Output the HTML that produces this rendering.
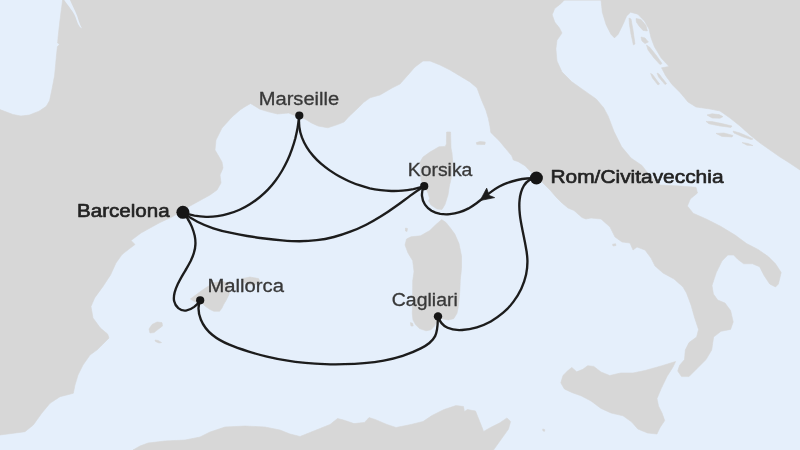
<!DOCTYPE html>
<html lang="de">
<head>
<meta charset="utf-8">
<title>Route: Barcelona – Marseille – Korsika – Rom/Civitavecchia – Cagliari – Mallorca</title>
<style>
  html, body { margin: 0; padding: 0; background: #e5effb; }
  body { width: 800px; height: 450px; overflow: hidden; position: relative; }
  svg { display: block; position: absolute; left: 0; top: 0; }
  .land { fill: #d7d7d7; stroke: #d7d7d7; stroke-width: 0.6; stroke-linejoin: round; }
  .route { fill: none; stroke: #1c1c1c; stroke-width: 2.35; stroke-linecap: round; stroke-linejoin: round; }
  .dot { fill: #151515; }
  text { font-family: "Liberation Sans", "DejaVu Sans", sans-serif; }
  .lbl { font-size: 18px; fill: #383838; stroke: #383838; stroke-width: 0.3; }
  .lblb { font-size: 18px; fill: #222222; stroke: #222222; stroke-width: 0.6; stroke-linejoin: round; }
</style>
</head>
<body>
<svg width="800" height="450" viewBox="0 0 800 450">
  <defs>
    <filter id="soft" x="-2%" y="-2%" width="104%" height="104%"><feGaussianBlur stdDeviation="0.55"/></filter>
    <filter id="soft2" x="-5%" y="-5%" width="110%" height="110%"><feGaussianBlur stdDeviation="0.4"/></filter>
  </defs>
  <rect x="0" y="0" width="800" height="450" fill="#e5effb"/>
  <g id="land" filter="url(#soft)">
    <!-- mainland Europe -->
    <path class="land" d="M62.6,0 L61,12 59.5,24 58.2,36 57.6,43 59.5,44.5 57.4,46.5 56.5,55 55.5,66 54.5,76 52,89 49.6,100.6 46.3,106.3 39,111.2 29.3,115 21,116 13,114.5 6.5,112 0,109.6
      L0,435 13.3,433.3 25,431.7 33.3,425 41.7,413.3 50,403.3 60,396.7 73.3,393.3 75,385 78,375 83,365 90,355 97.5,349.6 103,344 109,338 107.6,334 100.4,328 93,318 91,306.6 94.6,298 103,286.4 110.5,275 116,263 122,254.6 129,249 135,244.5 131,240.5 141,233 150,228 160,222.5 172,217 183,210 190,206 200,200.5 210,195 217,190 221,183 220,175 223,168 222,162 218,155 215,150 216,140 222,128 232,117 240,110 245,106.7 250.6,103.5 254.6,106 259.5,109 267.6,111.6 277.4,114 288.8,113 293.6,115 299,117 305,119 311.5,123 318,126 327.8,127.8 337.5,124.6 344,122 349,116.5 357,109 363.5,102.6 370,97.8 380,95 392,88 400,84 408,75 415,67 423,61 430,61 440,65 450,70 460,76 470,82 477,88 481.5,100 485.8,110 488.3,118.3 490,126.7 490.8,132.5 495,136.7 499.2,140.8 503.3,145.8 507.5,150.8 511.7,155.8 513.3,160 518.3,161.7 525,165.8 530,171 537,176.5 543,183 550,190 556,197 562,203 568,208 574,210.5 578,214 582,217.5 586,219 591,218 601,219 610,227 615,237 622,242 630,243 633,250 637,247 645,250 651,258 655,266 663,273 674,279 683,287 686.5,293 691,305 694.7,318 698.5,329.4 696.6,337 689,342.6 685.3,350 684.5,359.6 679.6,365.3 677.7,371 681.5,376.6 689,376.6 696.6,369 706,359.6 711.7,350 713.6,337 721,331.3 730.6,329.4 733.2,321.9 730.6,310.6 725,303 717.7,300 713.4,294 712,285.5 716.3,272.5 722,261 727.8,255 733.6,255 738,259.5 743.7,263.8 752.4,263.8 759.6,266.7 764,275.4 769.7,284 775.5,287 778.4,284 781.2,272.5 775.5,263.8 768.3,256.6 758,249.4 746.6,243.6 735,235 720.6,226.3 706.2,219 693.2,213.3 687.4,206 690.3,198.9 697.5,193 696,187.3 680,186 660,185 650,176 642,165.5 631,158 621.5,146.6 614,131.5 608.3,116.4 603.5,107.5 596.2,99 584,90.4 571.8,81.8 562,72 557,61 555.9,48.9 557,40.3 562,33 559.5,28 554.7,22 552.2,14.7 554.7,8.6 560.8,3.7 564.4,0
      L601,0 602.3,12.2 606,24.4 610.9,34.2 614.5,37.9 618.2,34.2 623,24.4 626.7,15.9 630.6,12.2 637.8,14.2 644.4,21 649,29 651,37.8 654.4,46.7 661,57.8 669,66.5 661.5,67.8 665.5,75.5 672,84.4 680,92.4 688,102 696,107 710,109 720,111 730,118 740,126 750,135 760,143 770,150 780,157 788,162 794,166 800,170 L800,0 Z"/>
    <!-- Gironde estuary -->
    <path d="M64.2,0 L70,0 C72,5 75,10 77.2,16 C78.5,20 79.5,24 82,28.5 C79,27 77.5,23 75.5,17 C73,11 69,7 64.2,0 Z" fill="#e5effb"/>
    <!-- Corsica -->
    <path class="land" d="M446.6,132 L450.6,132 451,148 452,153 452.7,161 451.4,177.4 449.4,186 448,195 445,204.5 442,209.5 437,209 431,205 428.5,200.8 429.6,198.6 428,193 425,187 421,180.6 420.6,170 420,162 423,157 430,152 439,146.8 445.2,146.4 446.4,144 Z"/>
    <!-- Sardinia -->
    <path class="land" d="M441.7,219.6 L435.7,224.7 429.8,230.5 420.5,235.8 411,236.8 406.5,239 405,245 408,253 412.7,260.7 414,271.6 412.7,281 412.6,295 412.4,309 412.2,313.5 413,320 415.5,324.6 419.5,328.6 426,330.8 431,329.8 434.5,326 437,321 441.7,318.7 448.3,320 453.7,318.7 457,313.3 458.3,306.7 459.7,293.3 460.3,280 461.5,268.5 461.5,256 459,243.6 454.8,234 450,227.5 446,222.5 Z"/>
    <path class="land" d="M405.5,228 L407.5,228.5 407,231.5 405.5,231 Z"/>
    <path class="land" d="M410.4,322.6 L412.6,323.2 413.2,326 411,326 Z"/>
    <!-- Elba -->
    <path class="land" d="M476.3,142.6 L480,141.6 485.2,142 485,144.4 480,144.6 476.8,144.6 Z"/>
    <!-- Sicily -->
    <path class="land" d="M675.6,361.5 L673,367 667,376.6 661,389 657,398.6 658.5,406 662,413 664.7,420.6 659.8,428 657,434 647.5,433 637.8,429 631.7,422 623,415.8 611,413 601,408.4 591,401 581.5,396 571.8,392.5 564.4,389 560.8,382.8 563,375.4 568,370.5 571.8,367.4 576.7,371.8 582.8,369.3 587.7,365.7 593.8,366.4 601,372 609.7,375.5 620.7,373 633,373 645,370.5 662,365.7 Z"/>
    <path class="land" d="M542.6,429 L544.6,429.4 544.8,431.2 543,431 Z"/>
    <path class="land" d="M612.6,244.2 L615.6,243.8 616,245.6 613,246 Z"/>
    <!-- Mallorca -->
    <path class="land" d="M190.3,299 L202.5,290 207.4,286.8 214,283 222,281 229,284 230,289 229,294.5 226,300.5 223.6,304.6 222,308 219.6,311.3 214,311.3 210,309.5 205,306 202.5,303.4 194.4,301.5 Z"/>
    <!-- Menorca -->
    <path class="land" d="M243,278.4 L250,277 258.6,278.6 260,282 255,285 247,284.4 243.5,282 Z"/>
    <!-- Ibiza / Formentera -->
    <path class="land" d="M149,329 L152,324.5 157,322 162,322.6 162.5,326 158.5,329 154,332.6 150,333 Z"/>
    <path class="land" d="M155,340 L158,340.4 161.6,342.6 159,343 155.6,341.6 Z"/>
    <!-- Africa -->
    <path class="land" d="M133,450 L140,446 148,443 165,441 185,440 200,437 210,432 225,427 245,426 265,427 280,430 290,434 300,436.5 315,430.5 330,424.5 337.5,418.5 343.5,420 354,423.6 364.5,422.4 369,417.6 375,419.4 387,424.5 396,427.5 411,424.5 423,421.5 432,415.5 444,409.5 456,405.6 463.5,406.5 464.4,411.6 467.4,409.5 475.5,411 478.5,418.5 481.5,426 483.6,431.4 490.5,427.5 499.5,423 507,417.9 510.6,421.5 508.5,429 501,439.5 493.5,450 Z"/>
    <!-- Adriatic islands -->
    <path class="land" d="M629,18 L631,19 633,30 635,44 633.4,45 631,34 629.4,24 Z"/>
    <path class="land" d="M636,18.5 L641,19.5 646,25.5 647.4,31 643,30.4 639,26 636.4,22 Z"/>
    <path class="land" d="M641,37 L645,38 648.4,42 645,43.6 642,41 Z"/>
    <path class="land" d="M646.5,45 L650,47.5 656,55 662,63.5 660,64.6 654,58 648,50 Z"/>
    <path class="land" d="M650.6,73.4 L652.6,74.6 659.6,84 658,85 652.4,78 Z"/>
    <path class="land" d="M657,73 L659,74 666.6,83.6 665,84.6 658.6,77 Z"/>
    <path class="land" d="M707,115 L712,113.8 719,114.6 723,116.6 720,118.2 712,118 Z"/>
    <path class="land" d="M706,121.4 L712,121.6 722,123.6 732,126 731,127.4 720,126 709,123.8 Z"/>
    <path class="land" d="M716,133.4 L724,133 733,135.4 732,137 722,136.4 Z"/>
    <path class="land" d="M733,131 L740,133 748,136.4 753,139 751,139.6 742,136.6 734,133 Z"/>
    <path class="land" d="M742,142.6 L748,143.4 753,145.6 747,145.2 Z"/>
  </g>
  <g id="routes" filter="url(#soft2)">
    <!-- Barcelona -> Marseille -->
    <path class="route" d="M182.8,212.3 C186.6,213.8 190.5,214.8 194.4,215.6 C198.3,216.3 202.1,216.7 206.0,216.8 C209.9,216.9 213.7,216.7 217.5,216.1 C221.3,215.6 225.1,214.8 228.7,213.7 C232.4,212.6 236.0,211.3 239.6,209.7 C243.1,208.1 246.5,206.3 249.8,204.2 C253.1,202.2 256.3,199.9 259.3,197.5 C262.3,195.0 265.2,192.4 267.9,189.6 C270.6,186.8 273.1,183.8 275.4,180.7 C277.8,177.6 279.9,174.3 281.9,171.0 C283.9,167.6 285.7,164.2 287.4,160.6 C289.0,157.1 290.5,153.4 291.8,149.7 C293.1,146.0 294.3,142.3 295.3,138.5 C296.2,134.7 297.1,130.9 297.7,127.1 C298.4,123.2 298.9,119.4 299.3,115.6"/>
    <!-- Marseille -> Korsika -->
    <path class="route" d="M299.3,115.6 C298.8,119.5 298.8,123.2 299.3,126.9 C299.7,130.5 300.7,134.0 301.9,137.4 C303.2,140.8 304.8,144.1 306.7,147.1 C308.6,150.2 310.8,153.2 313.2,155.9 C315.6,158.7 318.2,161.2 321.0,163.7 C323.8,166.1 326.7,168.3 329.7,170.4 C332.8,172.5 335.9,174.5 339.1,176.3 C342.4,178.1 345.7,179.7 349.0,181.2 C352.4,182.7 355.8,184.1 359.3,185.2 C362.7,186.4 366.3,187.4 369.8,188.3 C373.4,189.1 377.0,189.7 380.6,190.2 C384.2,190.7 387.8,191.0 391.5,191.0 C395.1,191.1 398.8,191.0 402.4,190.7 C406.1,190.4 409.7,189.8 413.4,189.1 C417.0,188.3 420.6,187.4 424.2,186.2"/>
    <!-- Barcelona -> Korsika -->
    <path class="route" d="M182.8,212.3 C187.4,216.0 192.3,219.1 197.4,221.7 C202.5,224.3 207.8,226.5 213.3,228.3 C218.8,230.1 224.4,231.5 230.1,232.7 C235.8,234.0 241.6,235.1 247.3,236.0 C253.1,237.0 258.8,237.8 264.6,238.5 C270.4,239.3 276.2,239.9 282.0,240.3 C287.8,240.8 293.7,241.2 299.5,241.2 C305.3,241.2 311.1,240.9 316.8,240.2 C322.5,239.5 328.2,238.4 333.8,237.0 C339.4,235.6 344.9,233.8 350.3,231.7 C355.7,229.7 361.0,227.3 366.2,224.7 C371.4,222.1 376.5,219.2 381.4,216.1 C386.4,213.0 391.2,209.7 395.9,206.3 C400.7,202.9 405.3,199.3 410.0,195.9 C414.6,192.5 419.3,189.2 424.2,186.2"/>
    <!-- Barcelona -> Mallorca -->
    <path class="route" d="M182.8,212.3 C184.6,214.2 186.3,216.5 187.8,219.0 C189.4,221.5 190.8,224.2 192.0,227.1 C193.1,229.9 194.1,232.9 194.7,235.8 C195.3,238.8 195.6,241.7 195.4,244.6 C195.3,247.4 194.8,250.1 193.9,252.8 C193.1,255.5 192.0,258.1 190.8,260.7 C189.5,263.2 188.1,265.8 186.6,268.4 C185.1,270.9 183.5,273.5 182.0,276.1 C180.5,278.7 179.1,281.4 177.8,284.1 C176.5,286.9 175.4,289.7 174.6,292.6 C173.9,295.5 173.6,298.4 174.1,301.1 C174.7,303.8 176.2,306.4 178.3,308.2 C180.5,310.0 183.2,311.0 186.0,310.6 C188.8,310.3 191.7,308.8 194.2,306.9 C196.7,304.9 198.9,302.5 200.2,300.3"/>
    <!-- Mallorca -> Cagliari -->
    <path class="route" d="M200.2,300.3 C197.5,306.2 198.4,313.4 200.9,319.7 C203.5,326.0 207.6,331.0 212.5,335.0 C217.4,339.0 223.2,342.1 229.3,344.7 C235.4,347.3 241.7,349.4 248.0,351.4 C254.3,353.4 260.6,355.1 267.0,356.6 C273.3,358.1 279.7,359.4 286.1,360.4 C292.5,361.5 299.0,362.3 305.4,362.9 C311.9,363.5 318.4,363.9 324.9,364.1 C331.4,364.4 338.0,364.4 344.5,364.2 C351.1,364.1 357.7,363.8 364.2,363.2 C370.8,362.6 377.3,361.8 383.7,360.6 C390.2,359.4 396.5,357.8 402.7,355.8 C408.9,353.8 415.0,351.4 420.8,348.4 C426.7,345.4 432.2,341.8 435.1,336.1 C438.0,330.4 437.7,321.8 438.0,316.4"/>
    <!-- Rom -> Cagliari -->
    <path class="route" d="M536.3,178.0 C530.3,178.3 526.5,181.5 523.9,185.7 C521.4,189.9 520.1,195.0 519.6,199.9 C519.1,204.9 519.3,210.0 519.9,215.1 C520.5,220.2 521.5,225.2 522.5,230.2 C523.5,235.1 524.5,239.9 525.4,244.7 C526.4,249.6 527.2,254.6 527.4,259.6 C527.6,264.6 527.1,269.6 526.1,274.5 C525.0,279.4 523.4,284.2 521.3,288.8 C519.2,293.3 516.6,297.6 513.5,301.6 C510.5,305.7 507.0,309.4 503.2,312.7 C499.4,316.0 495.2,318.9 490.8,321.4 C486.4,323.8 481.7,325.8 476.9,327.3 C472.0,328.8 467.0,329.7 462.0,330.0 C456.9,330.3 451.9,329.9 447.6,327.8 C443.3,325.8 439.6,321.9 438.0,316.4"/>
    <!-- Rom -> Korsika -->
    <path class="route" d="M536.3,178.0 C533.2,178.0 530.1,178.2 526.9,178.5 C523.8,178.8 520.6,179.3 517.4,180.0 C514.2,180.7 511.1,181.6 508.1,182.7 C505.1,183.7 502.1,185.0 499.3,186.5 C496.6,188.0 493.9,189.7 491.4,191.6 C488.9,193.4 486.4,195.4 484.0,197.4 C481.5,199.3 479.1,201.3 476.5,203.2 C474.0,205.0 471.4,206.8 468.6,208.4 C465.8,209.9 462.8,211.2 459.6,212.2 C456.5,213.2 453.1,213.9 449.8,214.2 C446.5,214.5 443.3,214.4 440.2,213.9 C437.1,213.3 434.1,212.3 431.5,210.8 C429.0,209.2 426.7,207.1 425.0,204.6 C423.3,202.0 422.2,199.1 422.0,195.9 C421.7,192.7 422.4,189.4 424.2,186.2"/>
    <!-- arrow head -->
    <path d="M480.2,200.5 L486.7,188.2 489,195.4 494.6,197.6 Z" fill="#1c1c1c" stroke="#1c1c1c" stroke-width="0.8" stroke-linejoin="round"/>
    <circle class="dot" cx="182.9" cy="212.3" r="6.5"/>
    <circle class="dot" cx="536.4" cy="178" r="6.5"/>
    <circle class="dot" cx="299.3" cy="115.6" r="4.1"/>
    <circle class="dot" cx="424.2" cy="186.2" r="4.1"/>
    <circle class="dot" cx="438.0" cy="316.4" r="4.2"/>
    <circle class="dot" cx="200.2" cy="300.3" r="4.1"/>
  </g>
  <g id="labels" filter="url(#soft2)">
    <text class="lbl" x="258.7" y="105.25" textLength="80.5" lengthAdjust="spacingAndGlyphs">Marseille</text>
    <text class="lbl" x="407.8" y="176.25" textLength="64.6" lengthAdjust="spacingAndGlyphs">Korsika</text>
    <text class="lbl" x="207.5" y="292.1" textLength="76.5" lengthAdjust="spacingAndGlyphs">Mallorca</text>
    <text class="lbl" x="391.8" y="306" textLength="66" lengthAdjust="spacingAndGlyphs">Cagliari</text>
    <text class="lblb" x="77" y="216.7" textLength="92.7" lengthAdjust="spacingAndGlyphs">Barcelona</text>
    <text class="lblb" x="550.5" y="183.45" textLength="173" lengthAdjust="spacingAndGlyphs">Rom/Civitavecchia</text>
  </g>
</svg>
</body>
</html>
